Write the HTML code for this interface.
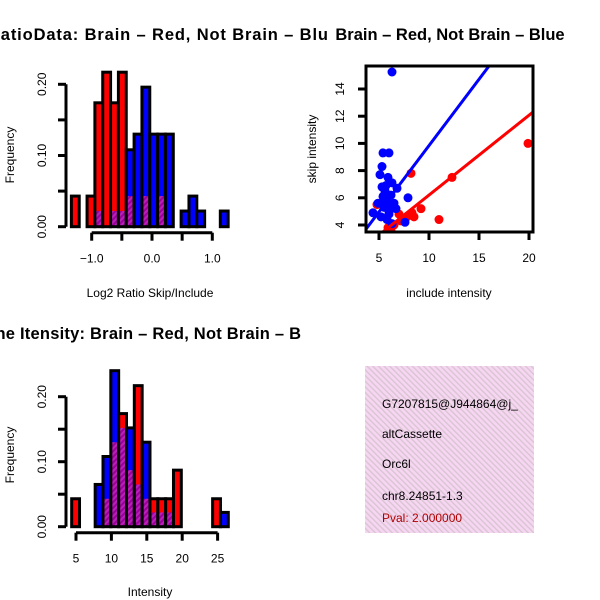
<!DOCTYPE html>
<html><head><meta charset="utf-8"><style>
html,body{margin:0;padding:0;background:#fff;}
svg{display:block;font-family:"Liberation Sans",sans-serif;}
</style></head><body>
<svg id="fig" width="600" height="600" viewBox="0 0 600 600">
<defs>
<pattern id="purp" patternUnits="userSpaceOnUse" width="4" height="4" patternTransform="rotate(45)">
<rect width="4" height="4" fill="#9a009a"/><rect width="2" height="4" fill="#b820b8"/>
</pattern>
<pattern id="pinkh" patternUnits="userSpaceOnUse" width="4" height="4" patternTransform="rotate(-45)">
<rect width="4" height="4" fill="#f6d6f2"/><rect width="1.3" height="4" fill="#d8c4d0"/>
</pattern>
<clipPath id="clipL"><rect x="0" y="0" width="329" height="600"/></clipPath>
<clipPath id="clipS"><rect x="366" y="66" width="167" height="166"/></clipPath>
</defs>
<g clip-path="url(#clipL)">
<text x="-12" y="40" textLength="340" lengthAdjust="spacing" font-size="16.5" font-weight="bold">RatioData: Brain – Red, Not Brain – Blu</text>
<text x="-27" y="339" textLength="328" lengthAdjust="spacing" font-size="16.5" font-weight="bold">Gene Itensity: Brain – Red, Not Brain – B</text>
</g>
<text x="450" y="40" text-anchor="middle" font-size="16.5" font-weight="bold">Brain – Red, Not Brain – Blue</text>
<g id="h1"></g>
<g id="h2"></g>
<g id="sc"></g>
<g>
<rect x="365" y="366" width="169" height="167" fill="url(#pinkh)"/>
<text x="382" y="408" font-size="12">G7207815@J944864@j_</text>
<text x="382" y="438" font-size="12">altCassette</text>
<text x="382" y="468" font-size="12">Orc6l</text>
<text x="382" y="500" font-size="12">chr8.24851-1.3</text>
<text x="382" y="522" font-size="12" fill="#b00000">Pval: 2.000000</text>
</g>
</svg>
<script>
// ratio histogram data
const ratioBreakStart = -1.337;
const ratioBinWidth = 0.13;
const ratioRed = [0.043,0,0.043,0.174,0.217,0.174,0.217,0.043,0,0.043,0,0.043,0,0,0,0,0,0,0,0];
const ratioBlue = [0,0,0,0.022,0,0.022,0.022,0.108,0.13,0.196,0.13,0.13,0.13,0,0.022,0.043,0.022,0,0,0.022];
const ratioXTicks = [-1.0,-0.5,0.0,0.5,1.0];
const ratioXLabels = ["-1.0","","0.0","","1.0"];
const histYTicks = [0,0.05,0.10,0.15,0.20];
const histYLabels = ["0.00","","0.10","","0.20"];
// intensity histogram data
const intBreakStart = 4.39;
const intBinWidth = 1.106;
const intRed = [0.043,0,0,0,0.043,0.13,0.174,0.087,0.217,0.043,0.043,0.043,0.043,0.087,0,0,0,0,0.043,0];
const intBlue = [0,0,0,0.065,0.108,0.24,0.152,0.152,0.065,0.13,0.022,0.022,0.022,0,0,0,0,0,0,0.022];
const intXTicks = [5,10,15,20,25];
const intXLabels = ["5","10","15","20","25"];
// scatter data
const blueInclude = [6.3,5.4,6.0,5.3,5.1,5.9,5.3,5.6,6.2,5.8,6.5,5.5,6.0,5.2,5.8,6.3,6.8,7.9,4.4,7.6,5.5,6.3,6.0,6.7,4.9,5.7,6.1,5.4];
const blueSkip =    [15.25,9.3,9.3,8.3,7.7,7.5,6.8,6.5,6.2,5.9,5.6,5.3,5.0,4.6,4.4,4.1,6.7,6.0,4.9,4.2,5.8,7.1,4.8,5.2,5.6,6.9,5.4,6.1];
const redInclude = [19.9,12.3,8.2,11.0,9.2,8.5,4.8,5.9,6.5,7.2,7.8,6.2,7.0,8.3];
const redSkip =    [10.0,7.5,7.8,4.4,5.2,4.6,5.5,3.8,4.0,4.3,4.6,3.6,4.8,4.9];
const fitIntercept = [0.09,0.33];
const fitSlope = [0.975,0.587];
const scXTicks = [5,10,15,20];
const scYTicks = [4,6,8,10,12,14];

const NS="http://www.w3.org/2000/svg";
function mk(parent,tag,attrs){const e=document.createElementNS(NS,tag);for(const k in attrs)e.setAttribute(k,attrs[k]);parent.appendChild(e);return e;}

function drawHist(g,start,w,red,blue,xs,ys,xTicks,xLabels,axisY,yAxisX,ylabelY,xTitle,xTitleY,prefix){
  for(let i=0;i<red.length;i++){
    const r=red[i],b=blue[i],mx=Math.max(r,b),mn=Math.min(r,b);
    if(mx<=0)continue;
    const x0=xs(start+i*w),x1=xs(start+(i+1)*w);
    const fillRect=mk(g,'rect',{x:x0,y:ys(mx),width:x1-x0,height:ys(0)-ys(mx),fill:(r>=b?'#ff0000':'#0000ff')});
    
    
    if(mn>0){
      const p=mk(g,'rect',{x:x0,y:ys(mn),width:x1-x0,height:ys(0)-ys(mn),fill:'url(#purp)'});
      
      
    }
    const o=mk(g,'rect',{x:x0,y:ys(mx),width:x1-x0,height:ys(0)-ys(mx),fill:'none',stroke:'#000','stroke-width':3});
    
    
  }
  const xa=mk(g,'line',{x1:xs(xTicks[0]),x2:xs(xTicks[xTicks.length-1]),y1:axisY,y2:axisY,stroke:'#000','stroke-width':3});
  
  
  xTicks.forEach((t,i)=>{
    mk(g,'line',{x1:xs(t),x2:xs(t),y1:axisY,y2:axisY+8,stroke:'#000','stroke-width':3});
    if(xLabels[i]){const tx=mk(g,'text',{x:xs(t),y:axisY+30,'text-anchor':'middle','font-size':12});tx.textContent=xLabels[i].replace('-','\u2212');
      
      }
  });
  const ya=mk(g,'line',{x1:yAxisX,x2:yAxisX,y1:ys(histYTicks[0]),y2:ys(histYTicks[histYTicks.length-1]),stroke:'#000','stroke-width':3});
  
  
  histYTicks.forEach((t,i)=>{
    mk(g,'line',{x1:yAxisX-8,x2:yAxisX,y1:ys(t),y2:ys(t),stroke:'#000','stroke-width':3});
    if(histYLabels[i]){const tx=mk(g,'text',{x:0,y:0,'text-anchor':'middle','font-size':12,transform:`translate(46,${ys(t)}) rotate(-90)`});tx.textContent=histYLabels[i];
      
      }
  });
  const yl=mk(g,'text',{x:0,y:0,'text-anchor':'middle','font-size':12,transform:`translate(14,${ylabelY}) rotate(-90)`});yl.textContent='Frequency';
  
  
  const xl=mk(g,'text',{x:150,y:xTitleY,'text-anchor':'middle','font-size':12});xl.textContent=xTitle;
  
  
}
drawHist(document.getElementById('h1'),ratioBreakStart,ratioBinWidth,ratioRed,ratioBlue,
  v=>152+60.3*v, y=>226.7-712*y, ratioXTicks,ratioXLabels,232.7,66,155,'Log2 Ratio Skip/Include',297,'ratio');
drawHist(document.getElementById('h2'),intBreakStart,intBinWidth,intRed,intBlue,
  v=>76+7.08*(v-5), y=>526.7-650*y, intXTicks,intXLabels,532.7,66,455,'Intensity',596,'intensity');

(function(){
  const g=document.getElementById('sc');
  const xs=v=>379+10*(v-5), ys=v=>225-13.6*(v-4);
  const pg=mk(g,'g',{'clip-path':'url(#clipS)'});
  for(let i=0;i<redInclude.length;i++){
    const c=mk(pg,'circle',{cx:xs(redInclude[i]),cy:ys(redSkip[i]),r:4.5,fill:'#ff0000'});
    
    
  }
  for(let i=0;i<blueInclude.length;i++){
    const c=mk(pg,'circle',{cx:xs(blueInclude[i]),cy:ys(blueSkip[i]),r:4.5,fill:'#0000ff'});
    
    
  }
  const cols=['#0000ff','#ff0000'];
  for(let k=0;k<2;k++){
    const xa=3,xb=22;
    const l=mk(pg,'line',{x1:xs(xa),y1:ys(fitIntercept[k]+fitSlope[k]*xa),x2:xs(xb),y2:ys(fitIntercept[k]+fitSlope[k]*xb),stroke:cols[k],'stroke-width':3});
    
    
  }
  const box=mk(g,'rect',{x:366,y:66,width:167,height:166,fill:'none',stroke:'#000','stroke-width':3});
  
  
  scXTicks.forEach(t=>{
    mk(g,'line',{x1:xs(t),x2:xs(t),y1:232,y2:240,stroke:'#000','stroke-width':3});
    const tx=mk(g,'text',{x:xs(t),y:262,'text-anchor':'middle','font-size':12});tx.textContent=t;
    
    
  });
  scYTicks.forEach(t=>{
    mk(g,'line',{x1:358,x2:366,y1:ys(t),y2:ys(t),stroke:'#000','stroke-width':3});
    const tx=mk(g,'text',{x:0,y:0,'text-anchor':'middle','font-size':12,transform:`translate(344,${ys(t)}) rotate(-90)`});tx.textContent=t;
    
    
  });
  const xl=mk(g,'text',{x:449,y:297,'text-anchor':'middle','font-size':12});xl.textContent='include intensity';
  
  
  const yl=mk(g,'text',{x:0,y:0,'text-anchor':'middle','font-size':12,transform:'translate(316,149) rotate(-90)'});yl.textContent='skip intensity';
  
  
})();
</script>
</body></html>
